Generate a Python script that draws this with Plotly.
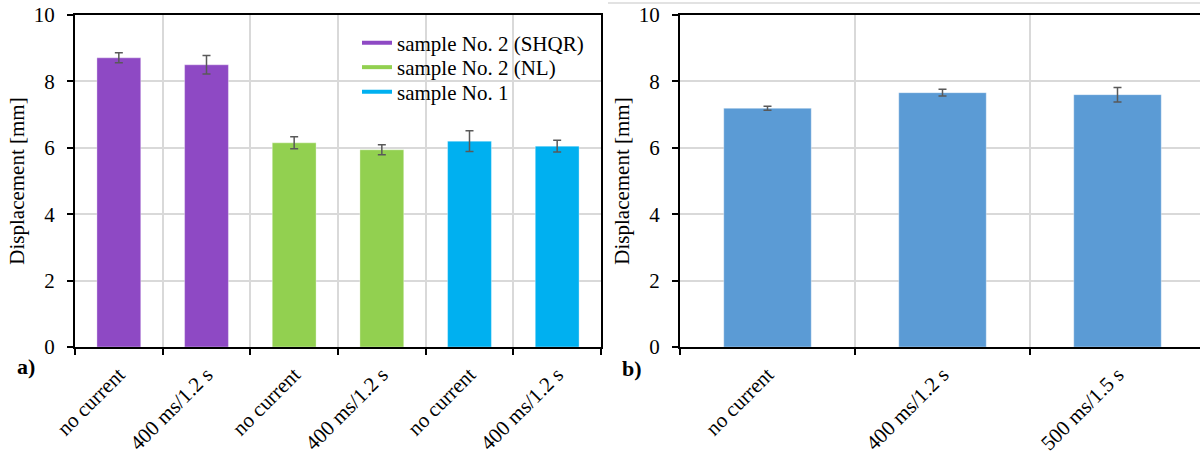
import plotly.graph_objects as go

# ---- data ----
cats_a = ["no current", "400 ms/1.2 s", "no current", "400 ms/1.2 s", "no current", "400 ms/1.2 s"]
series_names = ["sample No. 2 (SHQR)", "sample No. 2 (NL)", "sample No. 1"]
series_colors = ["#8E49C4", "#92D050", "#00B0F0"]
shqr_vals = [8.71, 8.50]
shqr_err = [0.15, 0.28]
nl_vals = [6.15, 5.94]
nl_err = [0.18, 0.15]
s1_vals = [6.20, 6.05]
s1_err = [0.31, 0.18]

cats_b = ["no current", "400 ms/1.2 s", "500 ms/1.5 s"]
b_vals = [7.19, 7.66, 7.60]
b_err = [0.06, 0.10, 0.22]
b_color = "#5B9BD5"

y_ticks = [0, 2, 4, 6, 8, 10]

FONT = "Liberation Serif"
FS = 21
GRID = "#D9D9D9"
ERRC = "#595959"
W, H = 1200, 453


def px_x(p):
    return p / W


def px_y(p):
    return 1 - p / H


fig = go.Figure()

legend_ids = ["legend", "legend2", "legend3"]
legend_rows = [43, 67.5, 92]

vals_a = [shqr_vals, nl_vals, s1_vals]
errs_a = [shqr_err, nl_err, s1_err]
for i, (name, col, v, e) in enumerate(zip(series_names, series_colors, vals_a, errs_a)):
    xs = [2 * i + k for k in range(len(v))]
    fig.add_trace(go.Bar(
        x=xs, y=v, width=0.5,
        marker=dict(color=col, line=dict(width=1, color="rgba(255,255,255,0.35)")),
        error_y=dict(type="data", array=e, color=ERRC, thickness=1.5, width=4),
        showlegend=False, xaxis="x", yaxis="y", name=name))
    fig.add_trace(go.Scatter(
        x=[None], y=[None], mode="lines", line=dict(color=col, width=4),
        name=name, showlegend=True, xaxis="x", yaxis="y", legend=legend_ids[i]))

fig.add_trace(go.Bar(
    x=list(range(len(cats_b))), y=b_vals, width=0.5,
    marker=dict(color=b_color, line=dict(width=1, color="rgba(255,255,255,0.35)")),
    error_y=dict(type="data", array=b_err, color=ERRC, thickness=1.5, width=4),
    showlegend=False, xaxis="x2", yaxis="y2"))

tickfont = dict(family=FONT, size=FS, color="black")


def xaxis_cfg(n, domain, rng):
    return dict(
        domain=domain, range=rng, tickmode="array", automargin=False,
        tickvals=list(range(n)), ticks="", showgrid=False, zeroline=False,
        tickangle=-45, tickfont=tickfont, ticklabelstandoff=5,
        showline=True, linecolor="black", linewidth=2, mirror=True,
        minor=dict(tickmode="array", tickvals=[k - 0.5 for k in range(n + 1)],
                   ticks="outside", ticklen=6, tickwidth=1.5, tickcolor="black",
                   showgrid=True, gridcolor=GRID, gridwidth=1.5),
    )


def yaxis_cfg(anchor, mirror):
    return dict(
        anchor=anchor, domain=[px_y(347), px_y(15)], range=[0, 10], automargin=False,
        tickmode="array", tickvals=y_ticks, ticks="outside", ticklen=6,
        tickwidth=1.5, tickcolor="black", ticklabelstandoff=8,
        showgrid=True, gridcolor=GRID, gridwidth=1.5, zeroline=False,
        showline=True, linecolor="black", linewidth=2, mirror=mirror,
        tickfont=tickfont,
        title=dict(text="Displacement [mm]", font=dict(family=FONT, size=FS, color="black"), standoff=3),
    )


xa = xaxis_cfg(len(cats_a), [px_x(75), px_x(601)], [-0.5, len(cats_a) - 0.5])
xa["ticktext"] = cats_a
xa["anchor"] = "y"
xb = xaxis_cfg(len(cats_b), [px_x(680), 1.0], [-0.5, -0.5 + (W - 680) / 175])
xb["ticktext"] = cats_b
xb["anchor"] = "y2"

legend_common = dict(xanchor="left", yanchor="middle", bgcolor="rgba(0,0,0,0)",
                     itemwidth=30, font=dict(family=FONT, size=FS, color="black"))
legends = {lid: dict(x=px_x(357), y=px_y(row), **legend_common)
           for lid, row in zip(legend_ids, legend_rows)}

fig.update_layout(
    template="none",
    width=W, height=H, margin=dict(l=0, r=0, t=0, b=0, autoexpand=False),
    paper_bgcolor="white", plot_bgcolor="white",
    barmode="overlay",
    xaxis=xa, yaxis=yaxis_cfg("x", True),
    xaxis2=xb, yaxis2=yaxis_cfg("x2", False),
    font=dict(family=FONT, size=FS, color="black"),
    annotations=[
        dict(text="<b>a)</b>", x=px_x(26), y=px_y(366), xref="paper", yref="paper",
             xanchor="center", yanchor="middle",
             showarrow=False, font=dict(family=FONT, size=22, color="black")),
        dict(text="<b>b)</b>", x=px_x(632), y=px_y(368), xref="paper", yref="paper",
             xanchor="center", yanchor="middle",
             showarrow=False, font=dict(family=FONT, size=22, color="black")),
    ],
    shapes=[dict(type="line", xref="paper", yref="paper", x0=px_x(608), x1=1.0,
                 y0=px_y(3), y1=px_y(3), line=dict(color=GRID, width=1.5))],
    **legends,
)

fig.write_html("out.html")
